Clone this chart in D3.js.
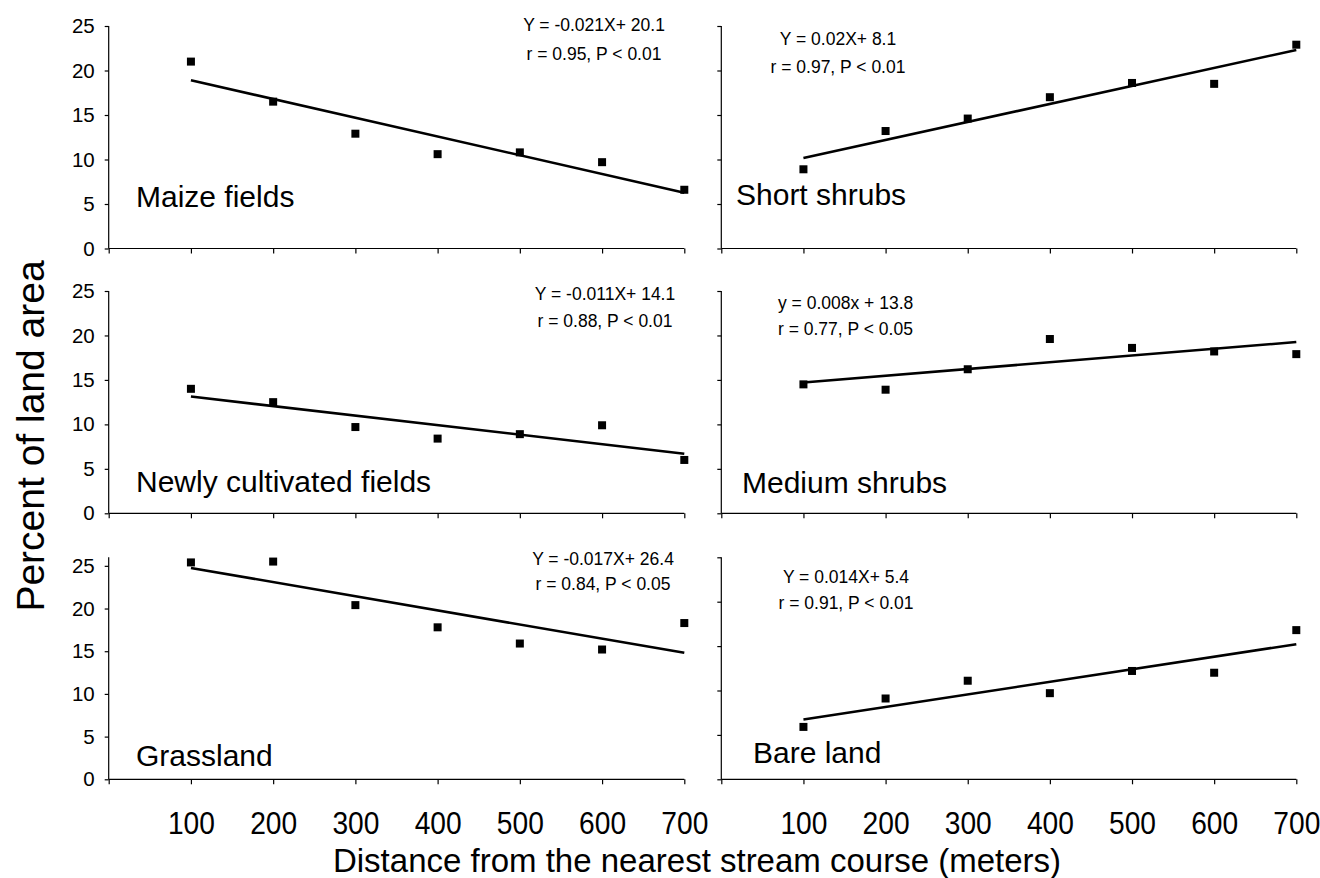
<!DOCTYPE html>
<html><head><meta charset="utf-8">
<script src="https://cdn.jsdelivr.net/npm/d3@7"></script>
<style>
body{margin:0;background:#fff}
text{font-family:"Liberation Sans",Arial,Helvetica,sans-serif;fill:#000}
</style>
</head><body>
<svg id="chart" width="1320" height="878"></svg>
<script>
// ---------- data ----------
const distances = [100, 200, 300, 400, 500, 600, 700];
const maizeFields      = [21.0, 16.5, 12.9, 10.6, 10.8, 9.7, 6.6];
const shortShrubs      = [8.9, 13.2, 14.6, 17.0, 18.6, 18.5, 22.9];
const newlyCultivated  = [14.0, 12.5, 9.7, 8.4, 8.9, 9.9, 6.0];
const mediumShrubs     = [14.5, 13.9, 16.2, 19.6, 18.6, 18.2, 17.9];
const grassland        = [25.4, 25.5, 20.4, 17.8, 15.9, 15.2, 18.3];
const bareLand         = [5.9, 9.1, 11.1, 9.7, 12.2, 12.0, 16.8];
const panelNames = ["Maize fields", "Short shrubs", "Newly cultivated fields", "Medium shrubs", "Grassland", "Bare land"];
const equations  = ["Y = -0.021X+ 20.1", "Y = 0.02X+ 8.1", "Y = -0.011X+ 14.1", "y = 0.008x + 13.8", "Y = -0.017X+ 26.4", "Y = 0.014X+ 5.4"];
const statistics = ["r = 0.95, P < 0.01", "r = 0.97, P < 0.01", "r = 0.88, P < 0.01", "r = 0.77, P < 0.05", "r = 0.84, P < 0.05", "r = 0.91, P < 0.01"];
const yMax = [25, 25, 25, 25, 26, 25];
const yTicks = [0, 5, 10, 15, 20, 25];
const xTicks = [0, 100, 200, 300, 400, 500, 600, 700];
const xTickLabels = ["", "100", "200", "300", "400", "500", "600", "700"];
const xTitle = "Distance from the nearest stream course (meters)";
const yTitle = "Percent of land area";

const seriesList = [maizeFields, shortShrubs, newlyCultivated, mediumShrubs, grassland, bareLand];

// ---------- layout ----------
const cols = [[108.7, 684.3], [721.3, 1296.3]];
const rows = [[26, 248.5], [291, 513.3], [557.3, 779.3]];
// equation text: [x, baseline1, baseline2, anchor]
const eqPos = [
  [594, 31, 60, "middle"],
  [838, 45, 73, "middle"],
  [605, 300, 327, "middle"],
  [778, 309, 335, "start"],
  [603, 565, 590, "middle"],
  [846, 583, 609, "middle"]
];
const labelPos = [[136, 207], [736, 205], [136, 492], [742, 493], [136, 766], [753, 763]];

const svg = d3.select("#chart");

function linFit(xs, ys) {
  const n = xs.length;
  const mx = d3.mean(xs), my = d3.mean(ys);
  let sxy = 0, sxx = 0;
  for (let i = 0; i < n; i++) { sxy += (xs[i]-mx)*(ys[i]-my); sxx += (xs[i]-mx)**2; }
  const b = sxy / sxx;
  return {b, a: my - b*mx};
}

seriesList.forEach((vals, i) => {
  const c = i % 2, r = Math.floor(i / 2);
  const [x0, x1] = cols[c];
  const [yTop, yBot] = rows[r];
  const x = d3.scaleLinear().domain([0, 700]).range([x0, x1]);
  const y = d3.scaleLinear().domain([0, yMax[i]]).range([yBot, yTop]);
  const g = svg.append("g");

  // y axis
  const ya = g.append("g").attr("transform", `translate(${x0},0)`)
    .call(d3.axisLeft(y).tickValues(yTicks).tickSize(4).tickPadding(10)
      .tickFormat(c === 0 ? d3.format("d") : () => ""));
  ya.select(".domain").attr("d", `M0,${yBot}V${yTop}`).attr("stroke", "#000").attr("stroke-width", 1.2);
  ya.selectAll(".tick line").attr("stroke", "#000").attr("stroke-width", 1.2);
  ya.selectAll(".tick text").attr("font-size", 20.5).attr("font-family", "Liberation Sans, Arial, sans-serif").attr("fill", "#000");

  // x axis
  const xa = g.append("g").attr("transform", `translate(0,${yBot})`)
    .call(d3.axisBottom(x).tickValues(xTicks).tickSize(5).tickPadding(27)
      .tickFormat((d, k) => r === 2 ? xTickLabels[k] : ""));
  xa.select(".domain").attr("d", `M${x0},0H${x1}`).attr("stroke", "#000").attr("stroke-width", 1.2);
  xa.selectAll(".tick line").attr("stroke", "#000").attr("stroke-width", 1.2);
  xa.selectAll(".tick text").attr("font-size", 32).attr("font-family", "Liberation Sans, Arial, sans-serif")
    .attr("fill", "#000").attr("transform", "scale(0.88,1)");

  // regression line
  const fit = linFit(distances, vals);
  g.append("line")
    .attr("x1", x(distances[0])).attr("y1", y(fit.a + fit.b*distances[0]))
    .attr("x2", x(distances[distances.length-1])).attr("y2", y(fit.a + fit.b*distances[distances.length-1]))
    .attr("stroke", "#000").attr("stroke-width", 2.6);

  // markers
  const ms = 8;
  g.selectAll("rect.pt").data(vals).join("rect").attr("class", "pt")
    .attr("x", (d, k) => x(distances[k]) - ms/2)
    .attr("y", d => y(d) - ms/2)
    .attr("width", ms).attr("height", ms).attr("fill", "#000");

  // labels
  g.append("text").attr("x", labelPos[i][0]).attr("y", labelPos[i][1])
    .attr("font-size", 30).text(panelNames[i]);
  const [ex, eb1, eb2, anc] = eqPos[i];
  g.append("text").attr("x", ex).attr("y", eb1).attr("text-anchor", anc)
    .attr("font-size", 17.5).text(equations[i]);
  g.append("text").attr("x", ex).attr("y", eb2).attr("text-anchor", anc)
    .attr("font-size", 17.5).text(statistics[i]);
});

// axis titles
svg.append("text").attr("x", 697).attr("y", 872).attr("text-anchor", "middle")
  .attr("font-size", 33).text(xTitle);
svg.append("text").attr("transform", "translate(44,436) rotate(-90)").attr("text-anchor", "middle")
  .attr("font-size", 39).text(yTitle);
</script>
</body></html>
